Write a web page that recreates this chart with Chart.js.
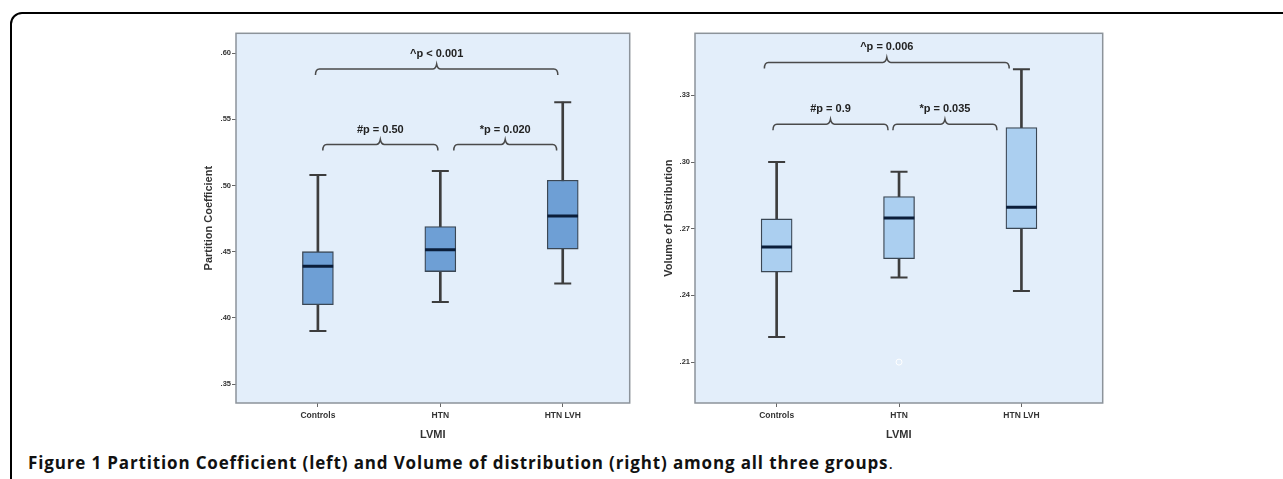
<!DOCTYPE html>
<html>
<head>
<meta charset="utf-8">
<script src="https://cdn.jsdelivr.net/npm/chart.js@4.4.1/dist/chart.umd.min.js"></script>
<style>
  html, body { margin: 0; padding: 0; background: #fff; width: 1283px; height: 479px; overflow: hidden; }
  #frame { position: absolute; left: 10px; top: 12px; width: 1300px; height: 520px; border: 2px solid #000; border-radius: 12px; box-sizing: border-box; }
  #c1 { position: absolute; left: 160px; top: 15px; }
  #c2 { position: absolute; left: 620px; top: 15px; }
  #caption { position: absolute; left: 28px; top: 451px; font-family: "Open Sans", "Noto Sans", sans-serif; font-weight: 700; font-size: 17px; letter-spacing: 0.85px; color: #111; white-space: nowrap; }
  #caption .dot { font-weight: 400; }
</style>
</head>
<body>
<div id="frame"></div>
<canvas id="c1" width="488" height="435" style="width:488px;height:435px"></canvas>
<canvas id="c2" width="501" height="435" style="width:501px;height:435px"></canvas>
<div id="caption">Figure 1 Partition Coefficient (left) and Volume of distribution (right) among all three groups<span class="dot">.</span></div>
<script>
// ---- data ----
const categories = ['Controls', 'HTN', 'HTN LVH'];
const xTitle = 'LVMI';

// Partition Coefficient (left)
const pcMin = [0.390, 0.412, 0.426];
const pcQ1  = [0.410, 0.435, 0.452];
const pcMed = [0.439, 0.4515, 0.477];
const pcQ3  = [0.450, 0.469, 0.504];
const pcMax = [0.508, 0.511, 0.563];
const pcTicks = [0.35, 0.40, 0.45, 0.50, 0.55, 0.60];
const pcTickLabels = ['.35', '.40', '.45', '.50', '.55', '.60'];
const pcBrackets = [
  { from: -0.02, to: 1.96, y: 0.588, label: '^p < 0.001' },
  { from: 0.04, to: 0.98, y: 0.531, label: '#p = 0.50' },
  { from: 1.11, to: 1.95, y: 0.531, label: '*p = 0.020' }
];

// Volume of Distribution (right)
const vdMin = [0.2213, 0.248, 0.242];
const vdQ1  = [0.2505, 0.2565, 0.270];
const vdMed = [0.2618, 0.2748, 0.2796];
const vdQ3  = [0.2744, 0.2845, 0.3155];
const vdMax = [0.300, 0.2956, 0.3417];
const vdOutliers = [null, 0.210, null];
const vdTicks = [0.21, 0.24, 0.27, 0.30, 0.33];
const vdTickLabels = ['.21', '.24', '.27', '.30', '.33'];
const vdBrackets = [
  { from: -0.10, to: 1.90, y: 0.3448, label: '^p = 0.006' },
  { from: -0.03, to: 0.91, y: 0.317, label: '#p = 0.9' },
  { from: 0.95, to: 1.80, y: 0.317, label: '*p = 0.035' }
];

// ---- plugin: plot background, frame, brackets ----
const panelPlugin = {
  id: 'panel',
  beforeDraw(chart, args, opts) {
    const a = chart.chartArea, ctx = chart.ctx;
    ctx.save();
    ctx.fillStyle = opts.bg;
    ctx.fillRect(a.left, a.top, a.right - a.left, a.bottom - a.top);
    ctx.restore();
  },
  afterDraw(chart, args, opts) {
    const a = chart.chartArea, ctx = chart.ctx;
    const xs = chart.scales.x, ys = chart.scales.y;
    ctx.save();
    ctx.strokeStyle = '#8c939a';
    ctx.lineWidth = 1.5;
    ctx.strokeRect(a.left, a.top, a.right - a.left, a.bottom - a.top);
    (opts.brackets || []).forEach(b => {
      const x1 = xs.getPixelForValue(b.from), x2 = xs.getPixelForValue(b.to);
      const y = ys.getPixelForValue(b.y), xm = (x1 + x2) / 2;
      const c = 4, d = 6, p = 5;
      ctx.beginPath();
      ctx.strokeStyle = '#4a4a4a';
      ctx.lineWidth = 1.5;
      ctx.moveTo(x1, y + d);
      ctx.quadraticCurveTo(x1, y, x1 + c, y);
      ctx.lineTo(xm - c, y);
      ctx.quadraticCurveTo(xm - 1, y, xm, y - p);
      ctx.quadraticCurveTo(xm + 1, y, xm + c, y);
      ctx.lineTo(x2 - c, y);
      ctx.quadraticCurveTo(x2, y, x2, y + d);
      ctx.stroke();
      ctx.fillStyle = '#222';
      ctx.font = 'bold 11px "Liberation Sans", Arial, sans-serif';
      ctx.textAlign = 'center';
      ctx.textBaseline = 'middle';
      ctx.fillText(b.label, xm, y - 15);
    });
    ctx.restore();
  }
};

function makeChart(id, cfg) {
  const pts = arr => arr.map((v, i) => ({ x: i, y: v }));
  const datasets = [
    { type: 'bar', data: cfg.min.map((v, i) => ({ x: i, y: [v, cfg.max[i]] })), backgroundColor: '#3d3d3d',
      barThickness: 2, grouped: false, order: 5, borderWidth: 0 },
    { type: 'bar', data: cfg.q1.map((v, i) => ({ x: i, y: [v, cfg.q3[i]] })), backgroundColor: cfg.boxColor,
      borderColor: '#3b4754', borderWidth: 1.3, borderSkipped: false, barThickness: 31, grouped: false, order: 4 },
    { type: 'line', data: pts(cfg.min), showLine: false, pointStyle: 'line', pointRadius: 8.5,
      pointBorderWidth: 2, pointBorderColor: '#3d3d3d', order: 3 },
    { type: 'line', data: pts(cfg.max), showLine: false, pointStyle: 'line', pointRadius: 8.5,
      pointBorderWidth: 2, pointBorderColor: '#3d3d3d', order: 3 },
    { type: 'line', data: pts(cfg.med), showLine: false, pointStyle: 'line', pointRadius: 15.3,
      pointBorderWidth: 3, pointBorderColor: '#0b1e3a', order: 1 }
  ];
  if (cfg.outliers) {
    datasets.push({ type: 'line', data: pts(cfg.outliers).filter(p => p.y !== null), showLine: false,
      pointStyle: 'circle', pointRadius: 3, pointBorderWidth: 1, pointBorderColor: '#ffffff',
      pointBackgroundColor: 'rgba(0,0,0,0)', order: 2 });
  }
  return new Chart(document.getElementById(id), {
    type: 'bar',
    data: { datasets },
    plugins: [panelPlugin],
    options: {
      responsive: false,
      animation: false,
      events: [],
      layout: { padding: { left: 0, right: 10, top: 13, bottom: 0 } },
      plugins: {
        legend: { display: false },
        tooltip: { enabled: false },
        panel: { bg: '#e3eefa', brackets: cfg.brackets }
      },
      scales: {
        x: {
          type: 'linear', min: cfg.xMin, max: cfg.xMax, offset: false,
          afterBuildTicks: ax => { ax.ticks = categories.map((_, i) => ({ value: i })); },
          afterFit: ax => { ax.height = 47; },
          grid: { display: true, drawOnChartArea: false, drawTicks: true, tickLength: 4, color: '#666', offset: false },
          border: { display: false },
          ticks: { callback: v => categories[v], maxRotation: 0, autoSkip: false, padding: 4, color: '#333',
                   font: { family: '"Liberation Sans", Arial, sans-serif', weight: 'bold', size: 8.5 } },
          title: { display: true, text: xTitle, color: '#333', padding: { top: 0, bottom: 8 },
                   font: { family: '"Liberation Sans", Arial, sans-serif', weight: 'bold', size: 11 } }
        },
        y: {
          min: cfg.yMin, max: cfg.yMax,
          afterBuildTicks: ax => { ax.ticks = cfg.ticks.map(v => ({ value: v })); },
          afterFit: ax => { ax.width = cfg.axisWidth; },
          grid: { display: true, drawOnChartArea: false, drawTicks: true, tickLength: 4, color: '#666' },
          border: { display: false },
          ticks: { callback: (v, i) => cfg.tickLabels[i], padding: 1, color: '#333', autoSkip: false,
                   font: { family: '"Liberation Sans", Arial, sans-serif', weight: 'bold', size: 7.5 } },
          title: { display: true, text: cfg.yTitle, color: '#333', padding: { top: cfg.titleOffset, bottom: 0 },
                   font: { family: '"Liberation Sans", Arial, sans-serif', weight: 'bold', size: 11 } }
        }
      }
    }
  });
}

makeChart('c1', {
  min: pcMin, q1: pcQ1, med: pcMed, q3: pcQ3, max: pcMax, boxColor: '#6e9fd5',
  ticks: pcTicks, tickLabels: pcTickLabels, brackets: pcBrackets,
  yMin: 0.3357, yMax: 0.615, xMin: -0.669, xMax: 2.547,
  axisWidth: 76, titleOffset: 42, yTitle: 'Partition Coefficient'
});
makeChart('c2', {
  min: vdMin, q1: vdQ1, med: vdMed, q3: vdQ3, max: vdMax, outliers: vdOutliers, boxColor: '#abcff0',
  ticks: vdTicks, tickLabels: vdTickLabels, brackets: vdBrackets,
  yMin: 0.1916, yMax: 0.3579, xMin: -0.667, xMax: 2.664,
  axisWidth: 75, titleOffset: 42, yTitle: 'Volume of Distribution'
});
</script>
</body>
</html>
